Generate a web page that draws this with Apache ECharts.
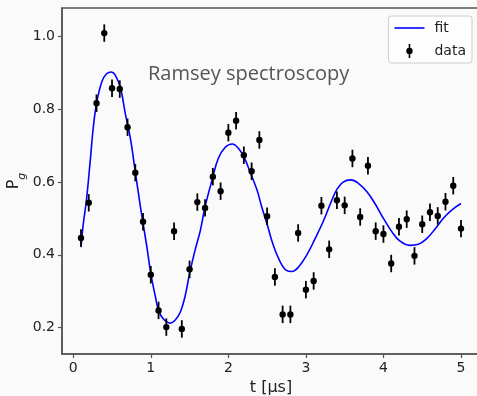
<!DOCTYPE html>
<html><head><meta charset="utf-8">
<script src="https://cdn.jsdelivr.net/npm/echarts@6/dist/echarts.min.js"></script>
<style>html,body{margin:0;padding:0;background:#fafafa}#c{width:477px;height:396px}</style>
</head><body><div id="c"></div>
<script>
// measured data points (t in µs, P_g) with error bars
const dataT = [0.1,0.2,0.3,0.4,0.5,0.6,0.7,0.8,0.9,1.0,1.1,1.2,1.3,1.4,1.5,1.6,1.7,1.8,1.9,2.0,2.1,2.2,2.3,2.4,2.5,2.6,2.7,2.8,2.9,3.0,3.1,3.2,3.3,3.4,3.5,3.6,3.7,3.8,3.9,4.0,4.1,4.2,4.3,4.4,4.5,4.6,4.7,4.8,4.9,5.0];
const dataP = [0.446,0.543,0.817,1.010,0.858,0.856,0.751,0.626,0.491,0.345,0.247,0.201,0.465,0.196,0.360,0.545,0.529,0.615,0.575,0.736,0.769,0.674,0.630,0.716,0.506,0.339,0.236,0.236,0.460,0.304,0.328,0.535,0.415,0.550,0.536,0.665,0.504,0.645,0.465,0.457,0.376,0.477,0.498,0.397,0.484,0.517,0.507,0.546,0.590,0.472];
const dataErr = [0.024,0.024,0.024,0.024,0.024,0.024,0.024,0.024,0.024,0.024,0.024,0.024,0.024,0.024,0.024,0.024,0.024,0.024,0.024,0.024,0.024,0.024,0.024,0.024,0.024,0.024,0.024,0.024,0.024,0.024,0.024,0.024,0.024,0.024,0.024,0.024,0.024,0.024,0.024,0.024,0.024,0.024,0.024,0.024,0.024,0.024,0.024,0.024,0.024,0.024];
// fit curve
const fitT = [0.10,0.13,0.17,0.22,0.26,0.305,0.37,0.43,0.49,0.54,0.61,0.67,0.74,0.80,0.86,0.90,0.95,1.00,1.06,1.10,1.16,1.25,1.31,1.38,1.44,1.50,1.57,1.64,1.70,1.79,1.87,1.96,2.05,2.13,2.21,2.28,2.37,2.43,2.50,2.58,2.67,2.75,2.82,2.90,3.01,3.12,3.23,3.33,3.40,3.48,3.58,3.68,3.79,3.89,4.00,4.11,4.21,4.34,4.45,4.56,4.67,4.77,4.88,5.00];
const fitP = [0.421,0.486,0.550,0.661,0.753,0.822,0.877,0.898,0.903,0.895,0.858,0.790,0.716,0.628,0.541,0.487,0.421,0.348,0.284,0.247,0.224,0.212,0.219,0.242,0.284,0.348,0.412,0.468,0.532,0.606,0.665,0.696,0.705,0.693,0.665,0.628,0.578,0.532,0.484,0.426,0.380,0.357,0.354,0.365,0.399,0.445,0.495,0.548,0.580,0.600,0.606,0.596,0.573,0.541,0.500,0.463,0.438,0.426,0.429,0.445,0.472,0.500,0.523,0.541];
const xTicks = [0,1,2,3,4,5];
const yTicks = [0.2,0.4,0.6,0.8,1.0];

const chart = echarts.init(document.getElementById('c'), null, {renderer:'canvas'});
const axisColor = '#555';
const labelFont = 'DejaVu Sans';
chart.setOption({
  animation: false,
  backgroundColor: '#fafafa',
  title: {
    text: 'Ramsey spectroscopy', left: 143, top: 59,
    textStyle: {fontSize: 20, fontWeight: 'normal', color: '#555', fontFamily: 'Open Sans'}
  },
  grid: {left: 62, top: 8, width: 418, height: 346, outerBoundsMode: 'none', containLabel: false, show: true, borderColor: axisColor, borderWidth: 1.5, backgroundColor: 'transparent'},
  legend: {
    orient: 'vertical', right: 5, top: 16, itemWidth: 30, itemHeight: 14, itemGap: 9,
    padding: [5, 6, 5, 6], backgroundColor: 'rgba(255,255,255,0.8)', borderColor: '#ccc', borderWidth: 1, borderRadius: 3,
    symbolKeepAspect: true,
    textStyle: {fontSize: 14, color: '#222', fontFamily: labelFont, padding: [0, 0, 0, 5]},
    data: [
      {name: 'fit', icon: 'path://M0,0 H30 V1.6 H0 Z', itemStyle: {color: '#0000ff'}},
      {name: 'data', icon: 'path://M2.2,0 H3.8 V14 H2.2 Z M6.2,7 A3.2,3.2 0 1 1 -0.2,7 A3.2,3.2 0 1 1 6.2,7 Z', itemStyle: {color: '#000'}}
    ]
  },
  xAxis: {
    type: 'value', min: -0.145, max: 5.245,
    axisLine: {show: true, onZero: false, lineStyle: {color: axisColor, width: 1.5}},
    axisTick: {show: true, inside: false, length: 4, customValues: xTicks, lineStyle: {color: axisColor, width: 1.2}},
    axisLabel: {customValues: xTicks, color: '#222', fontSize: 14, fontFamily: labelFont, margin: 7, formatter: v => String(v)},
    splitLine: {show: false},
    name: 't [µs]', nameLocation: 'middle', nameGap: 22,
    nameTextStyle: {fontSize: 16, color: '#222', fontFamily: labelFont}
  },
  yAxis: {
    type: 'value', min: 0.127, max: 1.079,
    axisLine: {show: true, onZero: false, lineStyle: {color: axisColor, width: 1.5}},
    axisTick: {show: true, inside: false, length: 4, customValues: yTicks, lineStyle: {color: axisColor, width: 1.2}},
    axisLabel: {customValues: yTicks, color: '#222', fontSize: 14, fontFamily: labelFont, margin: 7, formatter: v => v.toFixed(1)},
    splitLine: {show: false},
    name: '{p|P}{g|g}', nameLocation: 'middle', nameGap: 34, nameMoveOverlap: false,
    nameTextStyle: {
      color: '#222', fontFamily: labelFont,
      rich: {
        p: {fontSize: 16, color: '#222', fontFamily: labelFont, lineHeight: 22, verticalAlign: 'top'},
        g: {fontSize: 11, color: '#222', fontFamily: labelFont, fontStyle: 'italic', lineHeight: 22, verticalAlign: 'bottom'}
      }
    }
  },
  series: [
    {
      type: 'line', name: 'fit', data: fitT.map((t, i) => [t, fitP[i]]),
      symbol: 'none', smooth: 0.4, lineStyle: {color: '#0000ff', width: 1.6}, itemStyle: {color: '#0000ff'}, z: 2
    },
    {
      type: 'custom', name: 'data', z: 3,
      data: dataT.map((t, i) => [t, dataP[i], dataErr[i]]),
      encode: {x: 0, y: 1},
      itemStyle: {color: '#000'},
      renderItem: function (params, api) {
        const x = api.value(0), y = api.value(1), e = api.value(2);
        const top = api.coord([x, y + e]);
        const bot = api.coord([x, y - e]);
        const c = api.coord([x, y]);
        return {
          type: 'group',
          children: [
            {type: 'line', shape: {x1: top[0], y1: top[1], x2: bot[0], y2: bot[1]}, style: {stroke: '#000', lineWidth: 1.8}},
            {type: 'circle', shape: {cx: c[0], cy: c[1], r: 3.2}, style: {fill: '#000'}}
          ]
        };
      }
    }
  ]
});
</script>
</body></html>
